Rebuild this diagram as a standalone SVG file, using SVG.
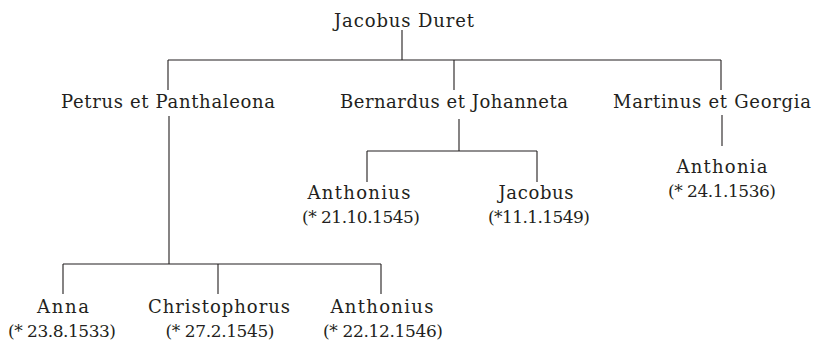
<svg xmlns="http://www.w3.org/2000/svg" width="813" height="343" viewBox="0 0 813 343">
  <style>
    .name { font-family: "DejaVu Serif", "Liberation Serif", serif; font-size: 18px; fill: #231f20; text-anchor: middle; }
    .date { font-family: "DejaVu Serif", "Liberation Serif", serif; font-size: 17px; fill: #231f20; text-anchor: middle; }
    .link { fill: none; stroke: #231f20; stroke-width: 1.1; }
  </style>
  <rect width="813" height="343" fill="#ffffff"/>

  <g id="connectors">
    <!-- Jacobus Duret to his three children -->
    <path class="link" d="M402 30 V60 M168 60 H721 M168 60 V90 M454 60 V90 M721 60 V90"/>
    <!-- Bernardus et Johanneta -->
    <path class="link" d="M459 119 V151 M367 151 H537 M367 151 V182 M537 151 V182"/>
    <!-- Martinus et Georgia -->
    <path class="link" d="M722 115 V146"/>
    <!-- Petrus et Panthaleona -->
    <path class="link" d="M169 116 V264 M63 264 H381 M63 264 V294 M218 264 V294 M381 264 V294"/>
  </g>

  <g id="jacobus-duret"><text class="name" x="404" y="27" textLength="140">Jacobus Duret</text></g>

  <g id="petrus-panthaleona"><text class="name" x="168" y="108" textLength="214">Petrus et Panthaleona</text></g>
  <g id="bernardus-johanneta"><text class="name" x="454" y="108" textLength="228">Bernardus et Johanneta</text></g>
  <g id="martinus-georgia"><text class="name" x="712" y="108" textLength="198">Martinus et Georgia</text></g>

  <g id="anthonius-1545">
    <text class="name" x="359" y="199" textLength="103">Anthonius</text>
    <text class="date" x="361" y="223" textLength="118">(* 21.10.1545)</text>
  </g>
  <g id="jacobus-1549">
    <text class="name" x="536" y="199" textLength="75">Jacobus</text>
    <text class="date" x="539" y="223" textLength="102">(*11.1.1549)</text>
  </g>
  <g id="anthonia-1536">
    <text class="name" x="722" y="173" textLength="91">Anthonia</text>
    <text class="date" x="722" y="197" textLength="108">(* 24.1.1536)</text>
  </g>

  <g id="anna-1533">
    <text class="name" x="63" y="313" textLength="52">Anna</text>
    <text class="date" x="62" y="337" textLength="108">(* 23.8.1533)</text>
  </g>
  <g id="christophorus-1545">
    <text class="name" x="219" y="313" textLength="142">Christophorus</text>
    <text class="date" x="220" y="337" textLength="109">(* 27.2.1545)</text>
  </g>
  <g id="anthonius-1546">
    <text class="name" x="382" y="313" textLength="103">Anthonius</text>
    <text class="date" x="383" y="337" textLength="120">(* 22.12.1546)</text>
  </g>
</svg>
